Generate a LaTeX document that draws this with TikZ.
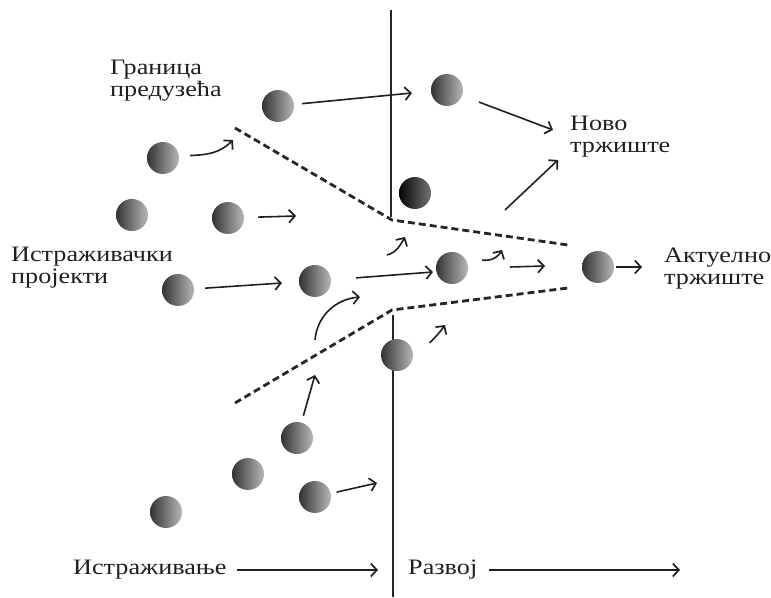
\documentclass[tikz,border=0pt]{standalone}
\usepackage{fontspec}
\setmainfont{Liberation Serif}[FakeStretch=1.19]
\usetikzlibrary{arrows.meta}

\begin{document}
\begin{tikzpicture}[x=1pt, y=1pt,
  ball/.style={circle, minimum size=32pt, inner sep=0pt, left color=black!80, right color=black!28},
  darkball/.style={ball, left color=black!98, right color=black!55},
  lbl/.style={anchor=west, inner sep=0pt, align=left, text=black!88, font=\fontsize{22}{22}\selectfont},
  arr/.style={-{Straight Barb[length=6pt,width=13pt,line width=1.7pt]}, line width=1.6pt, black!88, shorten <=8pt},
  bnd/.style={dash pattern=on 7pt off 4pt, line width=2.8pt, black!85},
  divider/.style={line width=1.8pt, black!85},
]
\useasboundingbox (0,0) rectangle (771,597);

% ---------- projects ----------
\node[ball] (b1) at (278,491) {};
\node[ball] (b2) at (447,507) {};
\node[ball] (b3) at (163,439) {};
\node[ball] (b4) at (132,382) {};
\node[ball] (b5) at (228,379) {};
\node[darkball] (b6) at (415,404) {};
\node[ball] (b7) at (178,307) {};
\node[ball] (b8) at (315,316) {};
\node[ball] (b9) at (452,329) {};
\node[ball] (b10) at (598,330) {};
\node[ball] (b12) at (297,159) {};
\node[ball] (b13) at (248,123) {};
\node[ball] (b14) at (315,100) {};
\node[ball] (b15) at (166,85) {};

% ---------- research / development border ----------
\draw[divider] (391,587) -- (391,380);
\draw[divider] (393,282) -- (393,0);
\node[ball] (b11) at (397,242) {};

% ---------- company boundary ----------
\draw[bnd] (235,469) -- (392,377) -- (568,352);
\draw[bnd] (235,194) -- (392,287) -- (568,309);

% ---------- labels ----------
\node[lbl] (firm) at (110,516) {Граница\\предузећа};
\node[lbl] (newmkt) at (570,460) {Ново\\тржиште};
\node[lbl] (curmkt) at (664,328) {Актуелно\\тржиште};
\node[lbl] (proj) at (11,329) {Истраживачки\\пројекти};
\node[lbl] (research) at (73,27) {Истраживање};
\node[lbl] (develop) at (408,27) {Развој};

% ---------- arrow ends ----------
\coordinate (e1) at (412,504);
\coordinate (e2) at (553,467);
\coordinate (s3) at (505,387);
\coordinate (e3) at (558,437);
\coordinate (e5) at (296,381);
\coordinate (e7) at (282,314);
\coordinate (e8) at (433,325);
\coordinate (s9) at (510,330);
\coordinate (e9) at (545,331);
\coordinate (c9) at (502,347);
\coordinate (e10) at (642,330);
\coordinate (e14) at (377,114);
\coordinate (e12) at (315,222);
\coordinate (e3b) at (233,457);
\coordinate (s6) at (387,342);
\coordinate (e6) at (405,360);
\coordinate (s8) at (315,257);
\coordinate (c8) at (360,300);
\coordinate (e11) at (445,272);
\coordinate (er) at (378,27);
\coordinate (ed) at (680,27);

% ---------- straight arrows ----------
\draw[arr] (b1) -- (e1);
\draw[arr, shorten <=18pt] (b2) -- (e2);
\draw[arr, shorten <=0pt] (s3) -- (e3);
\draw[arr, shorten <=14pt] (b5) -- (e5);
\draw[arr, shorten <=11pt] (b7) -- (e7);
\draw[arr, shorten <=25pt] (b8) -- (e8);
\draw[arr, shorten <=0pt] (s9) -- (e9);
\draw[arr, shorten <=2pt] (b10) -- (e10);
\draw[arr, shorten <=6pt] (b14) -- (e14);
\draw[arr, shorten <=7pt] (b12) -- (e12);
\draw[arr, shorten <=10pt] (research) -- (er);
\draw[arr, shorten <=12pt] (develop) -- (ed);

% ---------- curved arrows ----------
\draw[arr, shorten <=11pt] (b3) to[out=5, in=225] (e3b);
\draw[arr, shorten <=0pt] (s6) to[out=15, in=240] (e6);
\draw[arr, shorten <=15pt] (b9) to[out=15, in=240] (c9);
\draw[arr, shorten <=0pt] (s8) to[out=85, in=185] (c8);
\draw[arr, shorten <=20pt] (b11) to[out=20, in=235] (e11);

\end{tikzpicture}
\end{document}
